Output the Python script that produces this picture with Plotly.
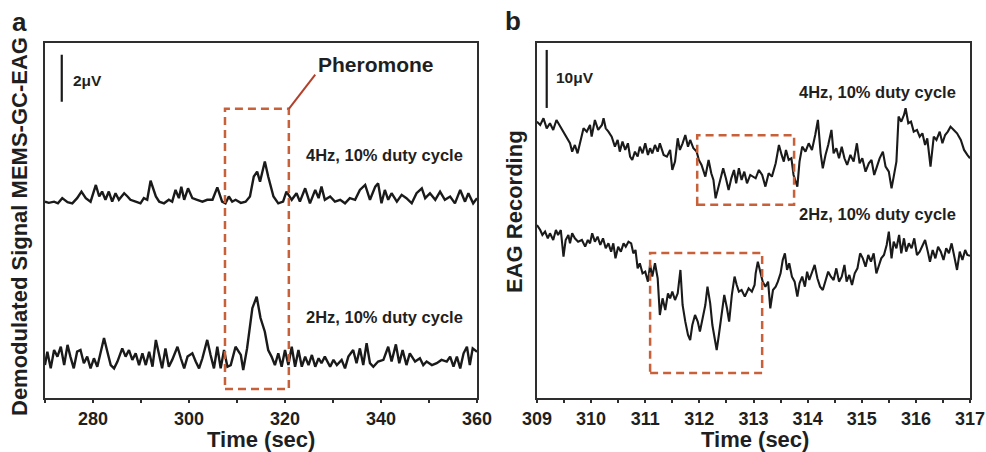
import plotly.graph_objects as go

# ---------------- data ----------------
# Panel a: demodulated MEMS-GC-EAG signal (uV), time in seconds
t_a4 = [270.0, 270.8, 271.9, 272.7, 273.6, 274.7, 275.7, 276.7, 277.6, 278.5, 279.5, 280.6, 281.3, 281.9, 282.6,
        283.3, 284.0, 284.7, 285.4, 286.5, 287.2, 287.8, 288.9, 289.9, 290.6, 291.3, 292.0, 293.1, 293.8, 294.8,
        295.8, 296.5, 297.2, 297.9, 298.4, 299.0, 299.8, 300.7, 301.7, 302.8, 303.8, 304.9, 305.9, 306.9, 307.6,
        308.3, 309.0, 309.7, 310.8, 311.8, 312.7, 313.5, 314.2, 314.8, 315.8, 316.5, 317.6, 318.6, 319.6, 320.3,
        321.4, 322.4, 323.1, 324.2, 325.2, 326.3, 327.0, 327.6, 328.3, 329.4, 330.4, 331.5, 332.5, 333.5, 334.6,
        335.6, 336.7, 337.7, 338.8, 339.4, 340.1, 340.8, 341.5, 342.2, 343.3, 344.3, 345.3, 346.4, 347.4, 348.5,
        349.2, 350.2, 351.3, 352.3, 353.3, 354.4, 355.4, 356.5, 357.5, 358.2, 359.2, 360.0]
v_a4 = [8.35, 8.30, 8.35, 8.28, 8.50, 8.33, 8.28, 8.50, 8.78, 8.50, 8.35, 9.06, 8.57, 8.78, 8.43,
        8.78, 8.35, 8.71, 8.43, 8.71, 8.57, 8.43, 8.35, 8.28, 8.50, 8.43, 9.24, 8.57, 8.35, 8.28,
        8.43, 8.35, 8.85, 8.50, 8.99, 8.43, 8.92, 8.50, 8.43, 8.35, 8.43, 8.43, 8.96, 8.35, 8.28,
        8.57, 8.35, 8.43, 8.30, 8.35, 8.57, 9.42, 9.63, 9.20, 10.06, 9.42, 8.57, 8.28, 8.35, 8.78,
        8.43, 8.71, 8.35, 8.92, 8.28, 8.85, 8.50, 8.99, 8.43, 8.57, 8.35, 8.43, 8.28, 8.50, 8.43,
        8.85, 9.06, 8.43, 8.99, 9.13, 8.28, 8.85, 8.43, 8.71, 8.35, 8.64, 8.50, 8.28, 8.71, 8.92,
        8.50, 8.71, 8.43, 8.78, 8.43, 8.57, 8.28, 8.85, 8.35, 8.71, 8.28, 8.50]

t_a2 = [270.0, 270.5, 271.2, 271.9, 272.6, 273.3, 274.0, 274.7, 275.3, 276.0, 276.7, 277.4, 278.1, 278.8, 279.5,
        280.2, 280.9, 281.6, 282.3, 283.0, 283.7, 284.4, 285.1, 286.1, 286.8, 287.5, 288.2, 288.9, 289.6, 290.3,
        291.0, 291.7, 292.4, 293.1, 293.8, 294.4, 295.1, 295.8, 296.5, 297.6, 298.3, 299.0, 299.7, 300.7, 301.4,
        302.1, 302.8, 303.8, 304.5, 305.2, 305.9, 306.6, 307.3, 308.0, 308.7, 309.7, 310.8, 311.3, 312.1, 313.2,
        314.1, 314.9, 315.8, 316.5, 317.2, 317.9, 318.6, 319.3, 320.0, 320.7, 321.4, 322.1, 322.8, 323.5, 324.2,
        324.9, 325.6, 326.3, 327.0, 327.6, 328.3, 329.4, 330.1, 330.8, 331.8, 332.5, 333.2, 334.2, 334.9, 335.6,
        336.3, 337.0, 337.7, 338.4, 339.4, 340.5, 341.5, 342.2, 343.1, 343.8, 344.5, 345.3, 346.0, 347.1, 348.1,
        348.8, 349.5, 350.6, 351.6, 352.6, 353.7, 354.4, 355.1, 355.8, 356.5, 357.2, 357.9, 358.5, 359.1, 360.0]
v_a2 = [1.40, 1.97, 1.26, 2.04, 1.76, 2.18, 1.40, 2.26, 1.76, 1.26, 1.97, 2.04, 1.48, 1.76, 1.26,
        1.69, 1.33, 1.97, 2.55, 1.97, 1.40, 1.26, 1.55, 2.11, 1.76, 2.04, 1.62, 1.90, 1.40, 1.90,
        1.40, 1.97, 1.33, 2.47, 1.83, 1.26, 2.11, 1.33, 1.62, 2.18, 1.69, 1.26, 1.76, 1.90, 1.55,
        1.26, 1.69, 2.47, 1.83, 1.26, 2.18, 1.26, 2.04, 1.33, 1.40, 2.18, 1.83, 1.19, 2.11, 3.82,
        4.31, 3.40, 2.82, 2.04, 1.76, 1.40, 1.90, 1.33, 2.04, 1.40, 2.18, 1.33, 2.04, 1.33, 1.76,
        1.40, 1.83, 1.33, 1.69, 1.48, 1.76, 1.33, 1.62, 1.40, 1.62, 1.26, 1.76, 2.04, 1.48, 2.11,
        1.40, 2.33, 1.48, 1.33, 1.55, 1.62, 2.18, 1.55, 2.28, 1.48, 2.04, 1.40, 1.90, 1.55, 1.69,
        1.40, 1.55, 1.40, 1.48, 1.62, 1.55, 1.76, 1.33, 1.76, 1.26, 1.90, 2.18, 1.40, 2.11, 1.97]

# Panel b: EAG recording (uV), time in seconds
t_b4 = [309.00, 309.06, 309.12, 309.18, 309.24, 309.30, 309.36, 309.43, 309.49, 309.55, 309.61, 309.65, 309.70,
        309.75, 309.79, 309.86, 309.92, 309.98, 310.01, 310.07, 310.13, 310.20, 310.23, 310.27, 310.32, 310.38,
        310.44, 310.49, 310.53, 310.58, 310.63, 310.68, 310.72, 310.76, 310.81, 310.86, 310.90, 310.95, 311.00,
        311.05, 311.09, 311.13, 311.18, 311.23, 311.27, 311.34, 311.40, 311.46, 311.50, 311.55, 311.60, 311.64,
        311.69, 311.74, 311.79, 311.83, 311.89, 311.95, 311.99, 312.04, 312.11, 312.17, 312.22, 312.26, 312.30,
        312.35, 312.40, 312.44, 312.49, 312.54, 312.59, 312.64, 312.68, 312.73, 312.78, 312.83, 312.88, 312.94,
        313.04, 313.10, 313.16, 313.22, 313.28, 313.34, 313.41, 313.47, 313.52, 313.56, 313.60, 313.65, 313.70,
        313.74, 313.81, 313.85, 313.90, 313.96, 314.02, 314.08, 314.14, 314.19, 314.24, 314.28, 314.33, 314.38,
        314.44, 314.48, 314.53, 314.58, 314.63, 314.68, 314.73, 314.79, 314.85, 314.91, 314.96, 315.01, 315.07,
        315.13, 315.18, 315.23, 315.28, 315.33, 315.39, 315.44, 315.50, 315.55, 315.59, 315.64, 315.68, 315.73,
        315.78, 315.81, 315.86, 315.91, 315.96, 316.02, 316.07, 316.12, 316.17, 316.21, 316.27, 316.33, 316.38,
        316.44, 316.49, 316.54, 316.59, 316.64, 316.70, 316.76, 316.83, 316.89, 316.95, 317.00]
v_b4 = [47.64, 47.07, 48.22, 46.49, 47.36, 46.21, 47.93, 46.78, 45.92, 44.77, 43.91, 42.47, 43.62,
        42.18, 43.91, 46.49, 45.92, 47.07, 45.06, 47.93, 46.21, 47.07, 48.22, 46.49, 45.92, 45.06,
        43.33, 44.48, 42.47, 44.20, 42.76, 43.91, 41.61, 41.03, 42.47, 41.61, 43.33, 42.18, 43.91,
        41.90, 43.05, 42.18, 43.62, 42.47, 43.91, 41.90, 41.61, 42.76, 39.31, 40.75, 44.77, 42.76,
        43.91, 45.34, 43.33, 44.48, 43.05, 42.47, 41.03, 40.17, 38.16, 41.03, 38.74, 37.59, 34.43,
        36.44, 38.16, 39.60, 37.87, 35.86, 37.87, 39.31, 37.01, 39.60, 37.59, 39.02, 37.01, 38.45,
        37.87, 39.31, 38.45, 36.44, 38.74, 38.16, 40.46, 43.62, 41.90, 40.75, 42.76, 41.03, 41.32,
        38.45, 36.44, 40.75, 43.33, 42.47, 43.91, 42.76, 45.34, 47.93, 42.18, 39.60, 41.90, 43.62,
        46.21, 42.18, 43.05, 41.32, 43.33, 41.32, 40.17, 41.90, 40.75, 43.91, 40.46, 41.32, 39.02,
        40.46, 41.03, 38.45, 39.89, 41.32, 42.47, 39.89, 39.02, 36.15, 38.16, 40.75, 48.51, 47.64,
        48.79, 49.94, 47.36, 47.64, 45.92, 46.21, 45.06, 45.63, 43.62, 44.77, 39.89, 45.06, 44.48,
        45.92, 43.91, 45.34, 45.92, 46.78, 46.21, 45.63, 44.48, 42.76, 41.90, 41.32]

t_b2 = [309.00, 309.06, 309.10, 309.15, 309.20, 309.24, 309.30, 309.35, 309.39, 309.44, 309.49, 309.53, 309.58,
        309.61, 309.65, 309.70, 309.76, 309.83, 309.89, 309.94, 309.98, 310.02, 310.07, 310.12, 310.17, 310.22,
        310.27, 310.32, 310.37, 310.41, 310.45, 310.50, 310.55, 310.60, 310.64, 310.69, 310.74, 310.78, 310.82,
        310.86, 310.90, 310.95, 311.00, 311.05, 311.09, 311.13, 311.18, 311.23, 311.27, 311.32, 311.37, 311.42,
        311.46, 311.50, 311.55, 311.60, 311.65, 311.69, 311.74, 311.79, 311.83, 311.87, 311.92, 311.97, 312.01,
        312.06, 312.11, 312.15, 312.20, 312.24, 312.29, 312.32, 312.36, 312.41, 312.46, 312.51, 312.55, 312.60,
        312.65, 312.69, 312.73, 312.78, 312.84, 312.91, 312.97, 313.02,
        313.04, 313.08, 313.13, 313.17, 313.22, 313.27, 313.31, 313.36, 313.41, 313.45, 313.50, 313.54, 313.58,
        313.62, 313.66, 313.71, 313.76, 313.81, 313.85, 313.90, 313.95, 313.99, 314.03, 314.08, 314.13, 314.18,
        314.23, 314.28, 314.33, 314.38, 314.43, 314.48, 314.53, 314.58, 314.63, 314.68, 314.72, 314.77, 314.82,
        314.87, 314.92, 314.97, 315.02, 315.07, 315.12, 315.17, 315.22, 315.27, 315.32, 315.36, 315.41, 315.46,
        315.50, 315.55, 315.59, 315.64, 315.69, 315.73, 315.78, 315.82, 315.87, 315.92, 315.97, 316.02, 316.07,
        316.12, 316.17, 316.22, 316.26, 316.31, 316.36, 316.41, 316.46, 316.51, 316.56, 316.61, 316.66, 316.71,
        316.76, 316.81, 316.86, 316.91, 316.95, 317.00]
v_b2 = [29.83, 28.96, 28.10, 28.68, 27.53, 28.39, 27.24, 28.96, 28.10, 28.96, 24.37, 27.24, 28.10,
        26.66, 28.39, 27.53, 26.95, 27.24, 26.09, 27.24, 26.66, 28.39, 26.95, 27.81, 26.38, 27.53,
        25.80, 26.66, 25.23, 26.66, 24.08, 26.09, 25.23, 26.66, 26.09, 26.95, 26.66, 24.94, 25.52,
        22.35, 23.22, 21.49, 21.78, 20.06, 22.93, 20.92, 23.22, 20.63, 14.31, 17.18, 15.17, 18.04,
        17.18, 18.33, 16.89, 18.04, 22.07, 16.03, 13.16, 10.86, 10.00, 12.58, 14.31, 13.16, 11.44,
        13.73, 16.03, 19.19, 16.32, 12.58, 9.71, 8.27, 10.86, 14.31, 17.76, 15.46, 13.16, 17.76,
        20.92, 19.48, 18.33, 18.62, 17.47, 18.91, 18.33, 19.48,
        21.49, 23.50, 21.78, 20.06, 19.19, 20.06, 15.46, 18.62, 19.19, 20.06, 21.49, 23.79, 24.94,
        22.07, 23.22, 20.92, 20.06, 17.47, 19.77, 20.92, 19.19, 21.78, 20.34, 21.49, 22.93, 20.63,
        19.19, 18.62, 20.06, 21.78, 20.92, 20.34, 22.35, 20.06, 20.92, 22.93, 20.06, 21.21, 19.48,
        21.49, 22.35, 24.94, 24.08, 22.64, 24.65, 23.50, 24.94, 21.49, 22.93, 24.08, 24.65, 26.38,
        28.68, 24.08, 26.95, 25.80, 28.10, 24.94, 27.53, 25.23, 26.66, 25.80, 27.53, 24.65, 25.23,
        26.38, 27.24, 25.23, 23.50, 25.52, 24.08, 26.09, 25.23, 23.79, 25.80, 24.94, 26.66, 24.37,
        22.07, 25.23, 23.79, 25.52, 24.65, 24.50]

for a, b in [(t_a4, v_a4), (t_a2, v_a2), (t_b4, v_b4), (t_b2, v_b2)]:
    assert len(a) == len(b), (len(a), len(b))

# highlighted windows (time range, signal range)
box_a = (307.5, 320.8, 0.38, 12.3)
box_b4 = (311.96, 313.75, 33.3, 45.3)
box_b2 = (311.09, 313.16, 4.3, 25.0)
scale_a_uV = 2
scale_b_uV = 10

# ---------------- styling ----------------
FONT = "Liberation Sans, Arial, sans-serif"
TXT = "#1f1f1f"
RED = "#c8603a"
LINE = "#1a1a1a"
AXC = "#2e2e2e"

fig = go.Figure()
fig.add_trace(go.Scatter(x=t_a4, y=v_a4, mode="lines", line=dict(color=LINE, width=2.4), xaxis="x", yaxis="y"))
fig.add_trace(go.Scatter(x=t_a2, y=v_a2, mode="lines", line=dict(color=LINE, width=2.4), xaxis="x", yaxis="y"))
fig.add_trace(go.Scatter(x=t_b4, y=v_b4, mode="lines", line=dict(color=LINE, width=2.1), xaxis="x2", yaxis="y2"))
fig.add_trace(go.Scatter(x=t_b2, y=v_b2, mode="lines", line=dict(color=LINE, width=2.1), xaxis="x2", yaxis="y2"))

xax = dict(showline=True, linecolor=AXC, linewidth=2.2, mirror=True, ticks="outside", ticklen=3, tickwidth=1.5,
           tickcolor=AXC, showgrid=False, zeroline=False, automargin=False,
           tickfont=dict(family=FONT, size=18, color=TXT, weight="bold"))
yax = dict(showline=True, linecolor=AXC, linewidth=2.2, mirror=True, ticks="", showticklabels=False,
           showgrid=False, zeroline=False, automargin=False)

dom_y = [0.1195, 0.9049]
fig.update_layout(
    width=986, height=452, margin=dict(l=0, r=0, t=0, b=0, autoexpand=False),
    paper_bgcolor="white", plot_bgcolor="white", showlegend=False,
    xaxis=dict(xax, domain=[0.0456, 0.4838], range=[270, 360], tick0=0, dtick=20, anchor="y",
               minor=dict(ticks="outside", dtick=10, ticklen=3, tickcolor=AXC, tickwidth=1.5)),
    yaxis=dict(yax, domain=dom_y, range=[0, 15.1], anchor="x"),
    xaxis2=dict(xax, domain=[0.5446, 0.9838], range=[309, 317], tick0=309, dtick=1, anchor="y2",
                minor=dict(ticks="outside", dtick=0.5, ticklen=3, tickcolor=AXC, tickwidth=1.5)),
    yaxis2=dict(yax, domain=dom_y, range=[0, 61.2], anchor="x2"),
)

shapes = []
for (x0, x1, y0, y1), xr, yr in [(box_a, "x", "y"), (box_b4, "x2", "y2"), (box_b2, "x2", "y2")]:
    shapes.append(dict(type="rect", xref=xr, yref=yr, x0=x0, x1=x1, y0=y0, y1=y1,
                       line=dict(color=RED, width=2.5, dash="8px,5px")))
# arrow from box corner to "Pheromone"
shapes.append(dict(type="line", xref="x", yref="y", x0=box_a[1], y0=box_a[3], x1=326.3, y1=13.75,
                   line=dict(color="#b3402b", width=2)))
# scale bars
shapes.append(dict(type="line", xref="x", yref="y", x0=273.5, x1=273.5, y0=14.6 - scale_a_uV, y1=14.6,
                   line=dict(color=LINE, width=2.2)))
shapes.append(dict(type="line", xref="x2", yref="y2", x0=309.18, x1=309.18, y0=60.0 - scale_b_uV, y1=60.0,
                   line=dict(color=LINE, width=2.2)))
fig.update_layout(shapes=shapes)

def txt(text, x, y, xr, yr, size, xanchor="left", yanchor="middle", angle=0, color=TXT):
    return dict(text="<b>%s</b>" % text, x=x, y=y, xref=xr, yref=yr, showarrow=False, xanchor=xanchor,
                yanchor=yanchor, textangle=angle, font=dict(family=FONT, size=size, color=color))

ann = [
    txt("2μV", 275.4, 13.5, "x", "y", 15.5),
    txt("10μV", 309.32, 55.2, "x2", "y2", 15.5),
    txt("Pheromone", 326.4, 14.17, "x", "y", 21),
    txt("4Hz, 10% duty cycle", 324.0, 10.34, "x", "y", 16.5),
    txt("2Hz, 10% duty cycle", 324.0, 3.45, "x", "y", 16.5),
    txt("4Hz, 10% duty cycle", 313.8, 52.76, "x2", "y2", 16.5),
    txt("2Hz, 10% duty cycle", 313.8, 31.72, "x2", "y2", 16.5),
    txt("Time (sec)", 0.2647, 1 - 439 / 452, "paper", "paper", 22, xanchor="center"),
    txt("Time (sec)", 0.7657, 1 - 439 / 452, "paper", "paper", 22, xanchor="center"),
    txt("Demodulated Signal MEMS-GC-EAG", 20 / 986, 1 - 227 / 452, "paper", "paper", 22,
        xanchor="center", angle=-90),
    txt("EAG Recording", 514 / 986, 1 - 212 / 452, "paper", "paper", 22, xanchor="center", angle=-90),
    txt("a", 10 / 986, 1 - 22 / 452, "paper", "paper", 26),
    txt("b", 503 / 986, 1 - 21 / 452, "paper", "paper", 26),
]
fig.update_layout(annotations=ann)

fig.write_html("out.html")
